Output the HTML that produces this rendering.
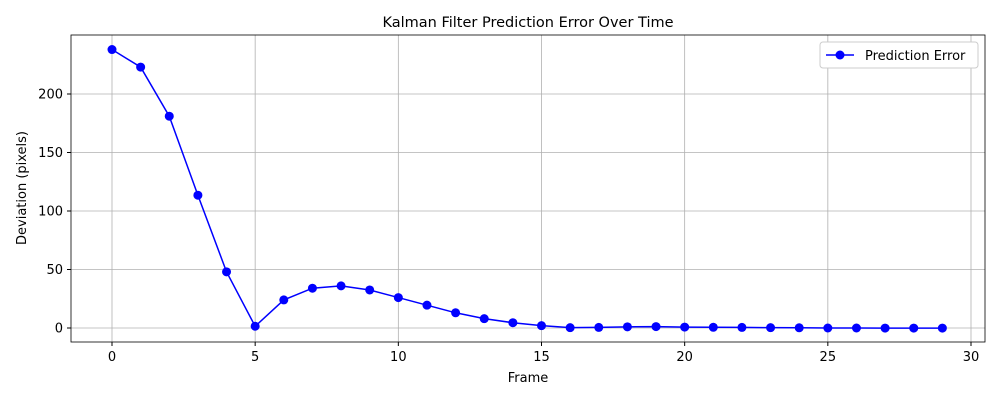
<!DOCTYPE html>
<html><head><meta charset="utf-8">
<style>
body{margin:0;background:#fff;font-family:"Liberation Sans","DejaVu Sans",sans-serif;}
svg text{font-family:"DejaVu Sans","Liberation Sans",sans-serif;}
</style></head>
<body>
<svg id="chart" width="1000" height="400" xmlns="http://www.w3.org/2000/svg">
<rect width="1000" height="400" fill="#fff"/>
<text x="528" y="27" font-size="14.5" text-anchor="middle">Kalman Filter Prediction Error Over Time</text>
<g id="grid"></g><g id="ticks"></g><g id="series"></g>
<rect x="71" y="35" width="914" height="307" fill="none" stroke="#000" stroke-width="0.8"/>
<text x="528" y="382" font-size="13" text-anchor="middle">Frame</text>
<text transform="translate(26,188) rotate(-90)" font-size="13" text-anchor="middle">Deviation (pixels)</text>
<g>
<rect x="820" y="42" width="158" height="26" rx="3" fill="#fff" stroke="#ccc"/>
<line x1="826" y1="55" x2="854" y2="55" stroke="#0000ff" stroke-width="1.5"/>
<circle cx="840" cy="55" r="4.5" fill="#0000ff"/>
<text x="865" y="60" font-size="13">Prediction Error</text>
</g>
</svg>
<script>
const frames=[0,1,2,3,4,5,6,7,8,9,10,11,12,13,14,15,16,17,18,19,20,21,22,23,24,25,26,27,28,29];
const errors=[238,223,181,113.5,48,1.5,24,34,36,32.5,26,19.5,13,8,4.5,2,0.3,0.5,1,1.2,0.8,0.6,0.5,0.3,0.2,0,0,-0.1,-0.1,-0.1];
const xTicks=[0,5,10,15,20,25,30];
const yTicks=[0,50,100,150,200];
const NS="http://www.w3.org/2000/svg";
function sx(v){return 112+v*(971-112)/30;}
function sy(v){return 328-v*(328-94)/200;}
function mk(t,a,p){const e=document.createElementNS(NS,t);for(const k in a)e.setAttribute(k,a[k]);p.appendChild(e);return e;}
const grid=document.getElementById('grid'),ticks=document.getElementById('ticks'),ser=document.getElementById('series');
xTicks.forEach(v=>{
 const g=mk('line',{x1:sx(v),x2:sx(v),y1:35,y2:342,stroke:'#b0b0b0','stroke-width':0.8},grid);
 
 
 mk('line',{x1:sx(v),x2:sx(v),y1:342,y2:346,stroke:'#000'},ticks);
 const t=mk('text',{x:sx(v),y:361,'font-size':13,'text-anchor':'middle'},ticks);t.textContent=v;
 
 
});
yTicks.forEach(v=>{
 const g=mk('line',{x1:71,x2:985,y1:sy(v),y2:sy(v),stroke:'#b0b0b0','stroke-width':0.8},grid);
 
 
 mk('line',{x1:67,x2:71,y1:sy(v),y2:sy(v),stroke:'#000'},ticks);
 const t=mk('text',{x:63,y:sy(v)+4.5,'font-size':13,'text-anchor':'end'},ticks);t.textContent=v;
 
 
});
const pl=mk('polyline',{points:frames.map((f,i)=>sx(f)+','+sy(errors[i])).join(' '),fill:'none',stroke:'#0000ff','stroke-width':1.5},ser);


frames.forEach((f,i)=>{
 const c=mk('circle',{cx:sx(f),cy:sy(errors[i]),r:4.5,fill:'#0000ff'},ser);
 
 
});
</script>
</body></html>
